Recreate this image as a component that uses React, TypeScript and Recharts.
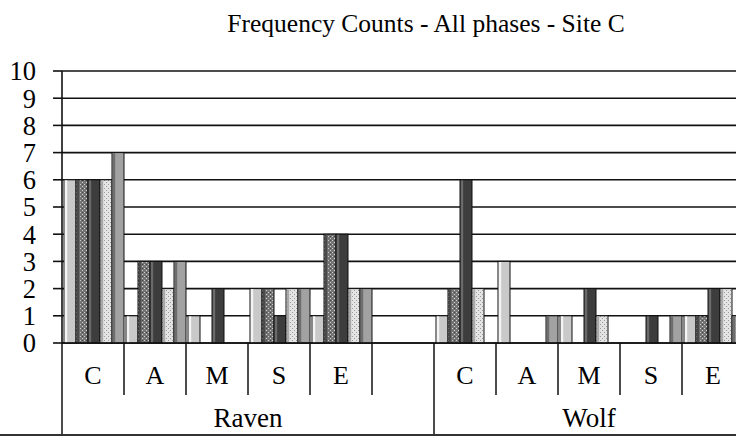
import React from "react";
import { BarChart, Bar, XAxis, YAxis, CartesianGrid } from "recharts";

// two-level category axis: subject (group) and behaviour code
const groups = ["Raven", "Raven", "Raven", "Raven", "Raven", "Raven", "Wolf", "Wolf", "Wolf", "Wolf", "Wolf"];
const codes = ["C", "A", "M", "S", "E", "", "C", "A", "M", "S", "E"];

// one list per phase series
const phase1 = [6, 1, 1, 2, 1, 0, 1, 3, 1, 0, 1];
const phase2 = [6, 3, 0, 2, 4, 0, 2, 0, 0, 0, 1];
const phase3 = [6, 3, 2, 1, 4, 0, 6, 0, 2, 1, 2];
const phase4 = [6, 2, 0, 2, 2, 0, 2, 0, 1, 0, 2];
const phase5 = [7, 3, 0, 2, 2, 0, 0, 1, 0, 1, 1];

const yTicks = [0, 1, 2, 3, 4, 5, 6, 7, 8, 9, 10];

const SERIF = "'Liberation Serif', 'Times New Roman', serif";
const INK = "#111";

const data = codes.map((c, i) => ({
  key: `${groups[i]}-${c}-${i}`,
  p1: phase1[i],
  p2: phase2[i],
  p3: phase3[i],
  p4: phase4[i],
  p5: phase5[i],
}));

const seriesStyle = [
  { key: "p1", fill: "#c9c9c9", strip: "#f4f4f4" },
  { key: "p2", fill: "url(#dotsDark)", strip: "#4a4a4a" },
  { key: "p3", fill: "#3d3d3d", strip: "#6a6a6a" },
  { key: "p4", fill: "url(#dotsLight)", strip: "#a8a8a8" },
  { key: "p5", fill: "#a2a2a2", strip: "#6e6e6e" },
];

const PatternBar = (props: any) => {
  const { x, y, width, height, fill, strip } = props;
  if (!height || height <= 0) return null;
  return (
    <g>
      <rect x={x} y={y} width={width} height={height} fill={fill} stroke={INK} strokeWidth={1} />
      <rect x={x + 0.8} y={y + 0.6} width={2.4} height={Math.max(height - 1.2, 0)} fill={strip} />
    </g>
  );
};

const CatTick = (props: any) => {
  const { x, y, payload } = props;
  const i: number = props.index ?? payload.index;
  const half: number = payload.offset || 31;
  const left = x - half;
  const groupStart = i === 0 || groups[i - 1] !== groups[i];
  let count = 0;
  if (groupStart) {
    while (i + count < groups.length && groups[i + count] === groups[i]) count++;
  }
  const last = i === codes.length - 1;
  return (
    <g>
      <text x={x} y={y + 41} textAnchor="middle" fontSize={26} fontFamily={SERIF} fill="#000">
        {codes[i]}
      </text>
      <line x1={left} y1={y} x2={left} y2={groupStart ? y + 93 : y + 52} stroke={INK} strokeWidth={1.5} />
      {last && <line x1={x + half} y1={y} x2={x + half} y2={y + 93} stroke={INK} strokeWidth={1.5} />}
      {groupStart && (
        <text x={left + count * half} y={y + 84} textAnchor="middle" fontSize={27} fontFamily={SERIF} fill="#000">
          {groups[i]}
        </text>
      )}
    </g>
  );
};

export default function App() {
  return (
    <div style={{ position: "absolute", left: 0, top: 0, width: 736, height: 436, overflow: "hidden", background: "#fff" }}>
      <div style={{ position: "relative", width: 852, height: 436 }}>
        <div style={{
          position: "absolute", top: 9, left: 0, width: 852, textAlign: "center",
          fontFamily: SERIF, fontSize: 25.5, lineHeight: "30px", color: "#000",
        }}>
          Frequency Counts - All phases - Site C
        </div>
        <BarChart
          width={852}
          height={436}
          data={data}
          margin={{ top: 71, right: 108, left: 0, bottom: 0 }}
          barCategoryGap={2}
          barGap={0}
        >
          <defs>
            <pattern id="dotsDark" patternUnits="userSpaceOnUse" width={4} height={4}>
              <rect width={4} height={4} fill="#747474" />
              <rect x={0} y={0} width={1} height={1} fill="#d0d0d0" />
              <rect x={2} y={2} width={1} height={1} fill="#d0d0d0" />
              <rect x={2} y={0} width={1} height={1} fill="#444" />
            </pattern>
            <pattern id="dotsLight" patternUnits="userSpaceOnUse" width={4} height={4}>
              <rect width={4} height={4} fill="#e4e4e4" />
              <rect x={0} y={0} width={1} height={1} fill="#9a9a9a" />
              <rect x={2} y={2} width={1} height={1} fill="#9a9a9a" />
            </pattern>
          </defs>
          <CartesianGrid vertical={false} stroke={INK} strokeWidth={1.6} />
          <XAxis
            dataKey="key"
            interval={0}
            height={93}
            tickLine={false}
            tickSize={0}
            tickMargin={0}
            axisLine={{ stroke: INK, strokeWidth: 1.6 }}
            tick={<CatTick />}
          />
          <YAxis
            width={62}
            domain={[0, 10]}
            ticks={yTicks}
            interval={0}
            tickSize={9}
            tickMargin={17}
            axisLine={{ stroke: INK, strokeWidth: 1.6 }}
            tickLine={{ stroke: INK, strokeWidth: 1.6 }}
            tick={{ fontSize: 26.5, fontFamily: SERIF, fill: "#000" }}
          />
          {seriesStyle.map(s => (
            <Bar
              key={s.key}
              dataKey={s.key}
              fill={s.fill}
              isAnimationActive={false}
              shape={(p: any) => <PatternBar {...p} fill={s.fill} strip={s.strip} />}
            />
          ))}
        </BarChart>
        <div style={{ position: "absolute", left: 0, top: 434, width: 852, height: 2, background: "#333" }} />
      </div>
    </div>
  );
}
